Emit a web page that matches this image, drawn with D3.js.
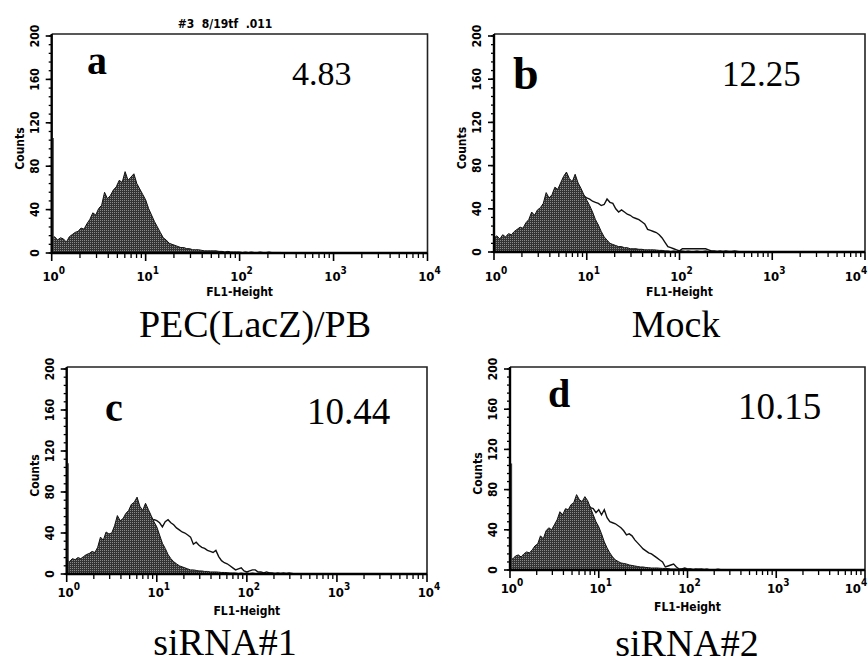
<!DOCTYPE html>
<html>
<head>
<meta charset="utf-8">
<script src="https://cdn.jsdelivr.net/npm/d3@7"></script>
<style>
  body { margin: 0; background: #fff; }
  .sans { font-family: "Liberation Sans Narrow", "DejaVu Sans Condensed", "Arial Narrow", sans-serif; font-weight: bold; }
  .serif { font-family: "Liberation Serif", "Times New Roman", serif; }
</style>
</head>
<body>
<script>
// panel texts
const panelLetters = ["a", "b", "c", "d"];
const percentLabels = ["4.83", "12.25", "10.44", "10.15"];
const sampleNames = ["PEC(LacZ)/PB", "Mock", "siRNA#1", "siRNA#2"];
const plotTitle = "#3  8/19tf  .011";
const yTicks = [0, 40, 80, 120, 160, 200];
const xTickExponents = [0, 1, 2, 3, 4];

// histogram channels: 32 bins per decade, starting at 10^0
const binsPerDecade = 32;
// pile-up in the very first channel
const firstChannel = [106, 0, 108, 106];

// filled (control) histograms
const filledA = [14, 15, 12, 14, 13, 10, 15, 17, 19, 20,
  23, 22, 27, 31, 37, 35, 41, 44, 56, 50,
  53, 58, 61, 67, 65, 75, 67, 70, 73, 64,
  59, 54, 49, 41, 35, 29, 24, 19, 14, 12,
  9, 8, 7, 6, 5, 5, 4, 4, 3, 3,
  3, 2.5, 2, 2, 2, 2, 2, 1.5, 1.5, 1,
  1.5, 1, 1, 1, 1, 0.5, 1, 0.5, 1, 0.5,
  0.5, 1, 0.5, 0.5, 1, 0.5, 0.5, 0.5, 0.5, 0];
const filledB = [13, 15, 12, 16, 14, 17, 16, 19, 21, 23,
  22, 27, 30, 37, 34, 39, 41, 45, 55, 50,
  53, 60, 58, 64, 70, 74, 68, 65, 72, 64,
  59, 53, 48, 43, 37, 30, 25, 19, 14, 11,
  8, 7, 6, 5, 5, 4, 4, 3, 3, 3,
  2.5, 2.5, 2, 2, 2, 2, 1.8, 1.5, 1.5, 1,
  1, 0.5, 1, 0.5, 1, 1, 0.5, 1, 0.5, 0.5,
  1, 0.5, 0.5, 1, 0.5, 0.5, 0.5, 0.5, 0.5, 0];
const filledC = [14, 12, 15, 14, 16, 15, 17, 19, 20, 22,
  21, 26, 36, 33, 41, 39, 40, 47, 57, 52,
  54, 59, 62, 68, 70, 75, 66, 62, 69, 63,
  57, 51, 46, 38, 30, 25, 19, 15, 12, 10,
  8, 7, 6, 5, 4, 4, 3.5, 3, 3, 2.5,
  2.5, 2, 2, 2, 1.8, 1.5, 1.5, 1.3, 1, 1,
  1, 0.5, 1, 0.5, 1, 0.5, 1, 0.5, 0.5, 1,
  0.5, 0.5, 1, 0.5, 0.5, 0.5, 0.5, 0.5, 0.5, 0];
const filledD = [13, 11, 14, 15, 13, 16, 18, 17, 20, 24,
  26, 34, 31, 39, 42, 40, 45, 50, 58, 55,
  61, 60, 65, 67, 75, 70, 68, 73, 69, 62,
  55, 48, 43, 36, 28, 22, 17, 13, 10, 8.5,
  7, 6.5, 6, 5, 4.5, 4, 3.5, 3, 3, 2.5,
  2.3, 2, 2, 2, 1.8, 1.6, 1.5, 1.5, 1, 1,
  1, 0.5, 1, 1, 0.5, 1, 0.5, 0.5, 1, 0.5,
  0.5, 1, 0.5, 0.5, 0.5, 1, 0.5, 0.5, 0.5, 0];

// open (treated) histograms, starting at the given bin
const openStart = [null, 30, 30, 28];
const openB = [55, 52, 50, 49, 47, 46, 45, 43, 44, 49,
  46, 45, 40, 37, 39, 37, 35, 34, 32, 31,
  30, 28, 26, 21, 20, 19, 18, 16, 13, 9,
  5, 4, 3, 2, 1, 3, 3, 3, 3, 3,
  3, 3, 3, 3, 2, 1, 1, 0.5, 1, 0.5,
  1, 0.5, 0.5, 1, 0.5, 0];
const openC = [50, 53, 52, 50, 46, 51, 53, 50, 48, 45,
  43, 41, 40, 38, 36, 29, 31, 28, 26, 25,
  23, 22, 21, 23, 17, 13, 11, 10, 8, 6,
  4, 5, 6, 3, 2, 3, 4, 4, 2, 2,
  1, 2, 1, 1, 0.5, 1, 0.5, 1, 0.5, 1, 0.5, 0];
const openD = [66, 62, 61, 57, 60, 55, 60, 52, 48, 47,
  46, 44, 42, 39, 35, 36, 34, 30, 27, 24,
  21, 19, 17, 16, 14, 12, 10, 8, 3, 4,
  5, 6, 3, 1, 1, 2, 1, 1, 0.5, 1, 0.5, 1, 0.5, 0.5, 0];

const filledSeries = [filledA, filledB, filledC, filledD];
const openSeries = [null, openB, openC, openD];

// where each panel sits on the page
const layout = [
  { x: [51.7, 427.5], y: [253, 36], top: 34, letter: [87, 74, 40], num: [292, 85, 34], name: [255, 337], tickY: 281, axisTitleY: 296 },
  { x: [494, 865], y: [252, 36], top: 34, letter: [513, 89, 46], num: [722, 86, 35], name: [676, 337], tickY: 281, axisTitleY: 296 },
  { x: [66.7, 427], y: [574, 369], top: 367, letter: [105, 421, 40], num: [307, 424, 37], name: [225, 655], tickY: 597, axisTitleY: 615 },
  { x: [510, 865], y: [570, 369], top: 367, letter: [548, 407, 40], num: [738, 419, 37], name: [687, 656], tickY: 593, axisTitleY: 611 }
];

const svg = d3.select("body").append("svg")
  .attr("width", 868)
  .attr("height", 665);

// halftone look for the filled histogram
const pat = svg.append("defs").append("pattern")
  .attr("id", "tone")
  .attr("width", 2).attr("height", 2)
  .attr("patternUnits", "userSpaceOnUse");
pat.append("rect").attr("width", 2).attr("height", 2).attr("fill", "#333");
pat.append("rect").attr("width", 1).attr("height", 1).attr("fill", "#8a8a8a");

svg.append("text")
  .attr("class", "sans")
  .attr("x", 225).attr("y", 28)
  .attr("text-anchor", "middle")
  .attr("font-size", 12)
  .style("white-space", "pre")
  .text(plotTitle);

layout.forEach(function (L, p) {
  const x = d3.scaleLog().domain([1, 1e4]).range(L.x);
  const y = d3.scaleLinear().domain([0, 200]).range(L.y);
  const g = svg.append("g");
  const binX = function (i) { return x(Math.pow(10, i / binsPerDecade)); };

  // open histogram first, so the filled one covers its lower part
  if (openSeries[p]) {
    const line = d3.line()
      .x(function (d, i) { return binX(i + openStart[p]); })
      .y(function (d) { return y(d); });
    g.append("path")
      .datum(openSeries[p])
      .attr("d", line)
      .attr("fill", "none")
      .attr("stroke", "#111")
      .attr("stroke-width", 1.4);
  }

  const area = d3.area()
    .x(function (d, i) { return binX(i); })
    .y0(y(0))
    .y1(function (d) { return y(d); });
  g.append("path")
    .datum(filledSeries[p])
    .attr("d", area)
    .attr("fill", "url(#tone)")
    .attr("stroke", "#111")
    .attr("stroke-width", 1);

  if (firstChannel[p] > 0) {
    g.append("line")
      .attr("x1", x(1) + 1.5).attr("x2", x(1) + 1.5)
      .attr("y1", y(0)).attr("y2", y(firstChannel[p]))
      .attr("stroke", "#444").attr("stroke-width", 1.3);
  }

  // frame: top and right
  g.append("path")
    .attr("d", "M" + L.x[0] + "," + L.top + "H" + L.x[1] + "V" + y(0))
    .attr("fill", "none")
    .attr("stroke", "#222")
    .attr("stroke-width", 1.6);

  // left axis
  g.append("line")
    .attr("x1", L.x[0]).attr("x2", L.x[0])
    .attr("y1", L.top).attr("y2", y(0) + 1)
    .attr("stroke", "#000").attr("stroke-width", 2.4);
  g.selectAll(".ymin").data(d3.range(0, 201, 8)).enter().append("line")
    .attr("x1", L.x[0] - 3).attr("x2", L.x[0])
    .attr("y1", function (d) { return y(d); })
    .attr("y2", function (d) { return y(d); })
    .attr("stroke", "#000").attr("stroke-width", 1.3);
  g.selectAll(".ymaj").data(yTicks).enter().append("line")
    .attr("x1", L.x[0] - 6).attr("x2", L.x[0])
    .attr("y1", function (d) { return y(d); })
    .attr("y2", function (d) { return y(d); })
    .attr("stroke", "#000").attr("stroke-width", 1.6);
  g.selectAll(".ylab").data(yTicks).enter().append("text")
    .attr("class", "sans")
    .attr("font-size", 12)
    .attr("text-anchor", "middle")
    .attr("transform", function (d) { return "translate(" + (L.x[0] - 17) + "," + y(d) + ") rotate(-90)"; })
    .attr("dy", "0.35em")
    .text(function (d) { return d; });
  g.append("text")
    .attr("class", "sans")
    .attr("font-size", 12)
    .attr("text-anchor", "middle")
    .attr("transform", "translate(" + (L.x[0] - 32) + "," + ((y(0) + y(200)) / 2 + 4) + ") rotate(-90)")
    .attr("dy", "0.35em")
    .text("Counts");

  // bottom axis
  g.append("line")
    .attr("x1", L.x[0] - 1).attr("x2", L.x[1])
    .attr("y1", y(0)).attr("y2", y(0))
    .attr("stroke", "#000").attr("stroke-width", 2.4);
  const minor = [];
  [0, 1, 2, 3].forEach(function (e) {
    d3.range(2, 10).forEach(function (k) { minor.push(k * Math.pow(10, e)); });
  });
  g.selectAll(".xmin").data(minor).enter().append("line")
    .attr("x1", function (d) { return x(d); })
    .attr("x2", function (d) { return x(d); })
    .attr("y1", y(0)).attr("y2", y(0) + 5)
    .attr("stroke", "#000").attr("stroke-width", 1.3);
  g.selectAll(".xmaj").data(xTickExponents).enter().append("line")
    .attr("x1", function (d) { return x(Math.pow(10, d)); })
    .attr("x2", function (d) { return x(Math.pow(10, d)); })
    .attr("y1", y(0)).attr("y2", y(0) + 8)
    .attr("stroke", "#000").attr("stroke-width", 1.6);
  const xl = g.selectAll(".xlab").data(xTickExponents).enter().append("text")
    .attr("class", "sans")
    .attr("font-size", 13)
    .attr("text-anchor", "middle")
    .attr("x", function (d) { return Math.min(x(Math.pow(10, d)) + 2, 856); })
    .attr("y", L.tickY);
  xl.append("tspan").text("10");
  xl.append("tspan")
    .attr("font-size", 10)
    .attr("dy", -7)
    .text(function (d) { return d; });
  g.append("text")
    .attr("class", "sans")
    .attr("font-size", 12)
    .attr("text-anchor", "middle")
    .attr("x", (L.x[0] + L.x[1]) / 2)
    .attr("y", L.axisTitleY)
    .text("FL1-Height");

  // panel letter, percentage and sample name
  g.append("text")
    .attr("class", "serif")
    .attr("font-weight", "bold")
    .attr("font-size", L.letter[2])
    .attr("x", L.letter[0]).attr("y", L.letter[1])
    .text(panelLetters[p]);
  g.append("text")
    .attr("class", "serif")
    .attr("font-size", L.num[2])
    .attr("x", L.num[0]).attr("y", L.num[1])
    .text(percentLabels[p]);
  g.append("text")
    .attr("class", "serif")
    .attr("font-size", 38)
    .attr("text-anchor", "middle")
    .attr("x", L.name[0]).attr("y", L.name[1])
    .text(sampleNames[p]);
});
</script>
</body>
</html>
